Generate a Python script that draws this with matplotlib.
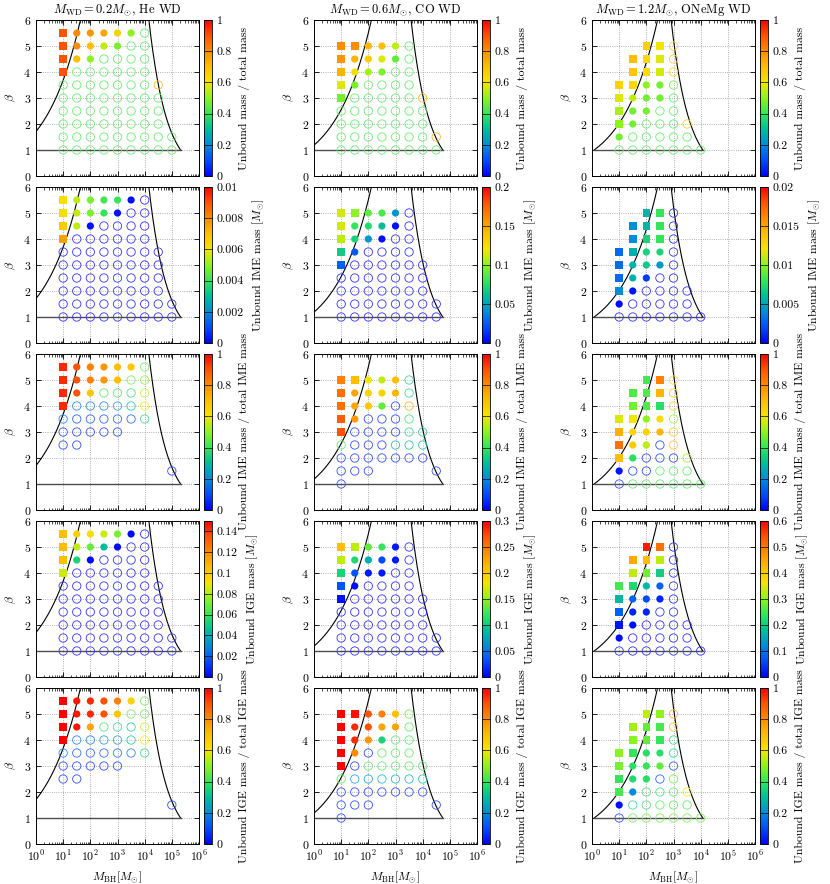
import numpy as np
import matplotlib
matplotlib.use("Agg")
import matplotlib.pyplot as plt
from matplotlib.colors import LinearSegmentedColormap, Normalize
from matplotlib.cm import ScalarMappable
from matplotlib.ticker import LogLocator, NullFormatter, FormatStrFormatter

plt.rcParams['font.family'] = 'serif'
plt.rcParams['font.serif'] = ['cmr10']
plt.rcParams['mathtext.fontset'] = 'cm'
plt.rcParams['axes.formatter.use_mathtext'] = True
plt.rcParams['font.size'] = 8.5

# grid of simulations: log10(M_BH) columns and beta rows (top to bottom)
log_mbh = [1.0, 1.5, 2.0, 2.5, 3.0, 3.5, 4.0, 4.5, 5.0]
betas = [5.5, 5.0, 4.5, 4.0, 3.5, 3.0, 2.5, 2.0, 1.5, 1.0]

# white dwarf models
wd_mass = [0.2, 0.6, 1.2]
wd_titles = [r"$M_{\rm WD}=0.2M_{\odot}$, He WD",
             r"$M_{\rm WD}=0.6M_{\odot}$, CO WD",
             r"$M_{\rm WD}=1.2M_{\odot}$, ONeMg WD"]
# black hole mass where the beta=1 orbit touches the horizon limit
m_end = [2.1e5, 5.5e4, 1.2e4]

cbar_labels = ["Unbound mass / total mass",
               r"Unbound IME mass [$M_{\odot}$]",
               "Unbound IME mass / total IME mass",
               r"Unbound IGE mass [$M_{\odot}$]",
               "Unbound IGE mass / total IGE mass"]
cbar_max = [[1, 1, 1], [0.01, 0.2, 0.02], [1, 1, 1], [0.15, 0.3, 0.6], [1, 1, 1]]
cbar_step = [[0.2, 0.2, 0.2], [0.002, 0.05, 0.005], [0.2, 0.2, 0.2],
             [0.02, 0.05, 0.1], [0.2, 0.2, 0.2]]

# tokens: s = square, c = filled circle, o = open circle, followed by value; '-' = no run
he_frac = ["s.9 c.8 c.78 c.75 c.65 c.5 o.42",
           "s.9 c.8 c.7 c.55 c.48 o.42 o.42",
           "s.9 c.7 c.5 o.42 o.42 o.42 o.42",
           "s.9 o.42 o.42 o.42 o.42 o.42 o.42",
           "o.42 o.42 o.42 o.42 o.42 o.42 o.42 o.75",
           "o.42 o.42 o.42 o.42 o.42 o.42 o.42 o.42",
           "o.42 o.42 o.42 o.42 o.42 o.42 o.42 o.42",
           "o.42 o.42 o.42 o.42 o.42 o.42 o.42 o.42",
           "o.42 o.42 o.42 o.42 o.42 o.42 o.42 o.42 o.42",
           "o.42 o.42 o.42 o.42 o.42 o.42 o.42 o.42 o.42"]
he_ime = ["s.0062 c.0055 c.0048 c.0042 c.004 c.0002 o0",
          "s.0062 c.0055 c.0048 c.004 c.0002 o0 o0",
          "s.0067 c.0055 c.0002 o0 o0 o0 o0",
          "s.0076 o0 o0 o0 o0 o0 o0",
          "o0 o0 o0 o0 o0 o0 o0 o0",
          "o0 o0 o0 o0 o0 o0 o0 o0",
          "o0 o0 o0 o0 o0 o0 o0 o0",
          "o0 o0 o0 o0 o0 o0 o0 o0",
          "o0 o0 o0 o0 o0 o0 o0 o0 o0",
          "o0 o0 o0 o0 o0 o0 o0 o0 o0"]
he_ime_frac = ["s.95 c.9 c.82 c.78 c.7 c.68 o.45",
               "s.95 c.9 c.82 c.78 c.7 o.45 o.48",
               "s.95 c.9 c.68 o.42 o.4 o.38 o.55",
               "s.95 o.15 o.15 o.18 o.22 o.3 o.6",
               "o.15 o.08 o.08 o.08 o.1 o.1 o.35",
               "o.05 o.05 o.05 o.05 o.05",
               "o.05 o.05",
               "",
               "- - - - - - - - o.05",
               ""]
he_ige = ["s.105 c.098 c.093 c.084 c.072 c.002 o0",
          "s.105 c.083 c.068 c.045 c.002 o0 o0",
          "s.105 c.053 c.002 o0 o0 o0 o0",
          "s.084 o0 o0 o0 o0 o0 o0",
          "o0 o0 o0 o0 o0 o0 o0 o0",
          "o0 o0 o0 o0 o0 o0 o0 o0",
          "o0 o0 o0 o0 o0 o0 o0 o0",
          "o0 o0 o0 o0 o0 o0 o0 o0",
          "o0 o0 o0 o0 o0 o0 o0 o0 o0",
          "o0 o0 o0 o0 o0 o0 o0 o0 o0"]
he_ige_frac = ["s1 c.97 c.95 c.9 c.82 c.65 o.45",
               "s1 c.97 c.95 c.9 c.68 o.45 o.45",
               "s1 c.97 c.75 o.4 o.35 o.32 o.55",
               "s1 o.15 o.15 o.2 o.22 o.3 o.6",
               "o.15 o.1 o.1 o.1 o.12 o.15 o.35",
               "o.05 o.05 o.05 o.05 o.05",
               "o.05 o.05",
               "",
               "- - - - - - - - o.05",
               ""]

co_frac = ["",
           "s.8 s.8 c.72 c.7 c.55 o.42",
           "s.78 c.72 c.67 c.58 c.45 o.42",
           "s.72 c.62 c.52 c.48 o.42 o.42",
           "s.58 c.48 o.42 o.42 o.42 o.42",
           "s.47 o.42 o.42 o.42 o.42 o.42 o.75",
           "o.42 o.42 o.42 o.42 o.42 o.42 o.42",
           "o.42 o.42 o.42 o.42 o.42 o.42 o.42",
           "o.42 o.42 o.42 o.42 o.42 o.42 o.42 o.75",
           "o.42 o.42 o.42 o.42 o.42 o.42 o.42 o.42"]
co_ime = ["",
          "s.114 s.1 c.09 c.085 c.044 o0",
          "s.114 c.08 c.074 c.06 c.004 o0",
          "s.11 c.07 c.044 c.004 o0 o0",
          "s.066 c.024 o0 o0 o0 o0",
          "s.026 o0 o0 o0 o0 o0 o0",
          "o0 o0 o0 o0 o0 o0 o0",
          "o0 o0 o0 o0 o0 o0 o0",
          "o0 o0 o0 o0 o0 o0 o0 o0",
          "o0 o0 o0 o0 o0 o0 o0 o0"]
co_ime_frac = ["",
               "s.82 s.7 c.6 c.55 c.7 o.32",
               "s.85 c.75 c.65 c.65 c.72 o.35",
               "s.85 c.75 c.68 c.45 o.05 o.75",
               "s.88 c.78 o.05 o.05 o.05 o.38",
               "s.9 o.05 o.05 o.05 o.05 o.35 o.32",
               "o.42 o.05 o.05 o.05 o.25 o.28 o.3",
               "o.05 o.05 o.05 o.05 o.05 o.05 o.05",
               "o.05 o.05 o.05 - - - - o.05",
               "o.05"]
co_ige = ["",
          "s.21 s.165 c.135 c.12 c.01 o0",
          "s.165 c.11 c.08 c.03 c.01 o0",
          "s.105 c.035 c.01 c.01 o0 o0",
          "s.035 c.006 o0 o0 o0 o0",
          "s.006 o0 o0 o0 o0 o0 o0",
          "o0 o0 o0 o0 o0 o0 o0",
          "o0 o0 o0 o0 o0 o0 o0",
          "o0 o0 o0 o0 o0 o0 o0 o0",
          "o0 o0 o0 o0 o0 o0 o0 o0"]
co_ige_frac = ["",
               "s1 s.98 c.9 c.82 c.7 o.45",
               "s1 c.95 c.9 c.75 c.75 o.42",
               "s1 c.95 c.78 c.35 o.42 o.42",
               "s1 c.8 o.05 o.42 o.42 o.42",
               "s1 o.05 o.42 o.42 o.42 o.42 o.42",
               "o.42 o.2 o.2 o.25 o.25 o.25 o.3",
               "o.05 o.05 o.05 o.05 o.05 o.05 o.05",
               "o.05 o.05 o.05 - - - - o.05",
               "o.05"]

one_frac = ["",
            "- - s.65 s.6 o.68",
            "- s.7 s.63 s.58 o.68",
            "- s.68 s.62 s.57 o.68",
            "s.65 s.63 c.5 c.47 o.45",
            "s.58 c.55 c.47 c.47 o.42",
            "s.53 c.47 c.47 o.42 o.42",
            "s.5 c.47 o.42 o.42 o.42 o.68",
            "c.47 o.42 o.42 o.42 o.42 o.42",
            "o.42 o.42 o.42 o.42 o.42 o.42 o.42"]
one_ime = ["",
           "- - s.0056 s.008 o0",
           "- s.004 s.0056 s.008 o0",
           "- s.004 s.007 s.008 o0",
           "s.003 s.0054 c.007 c.007 o0",
           "s.003 c.0056 c.0066 c.0045 o0",
           "s.003 c.0054 c.0016 o0 o0",
           "s.004 c.0006 o0 o0 o0 o0",
           "c.0002 o0 o0 o0 o0 o0",
           "o0 o0 o0 o0 o0 o0 o0"]
one_ime_frac = ["",
                "- - s.42 s.82 o.62",
                "- s.43 s.43 s.72 o.68",
                "- s.47 s.43 s.38 o.68",
                "s.58 s.6 c.5 c.62 o.5",
                "s.73 c.65 c.65 c.72 o.7",
                "s.85 c.67 c.55 o.05 o.7",
                "s.7 c.38 o.05 o.05 o.05 o.5",
                "c.03 o.05 o.05 o.42 o.42 o.42",
                "o.05 o.42 o.42 o.42 o.42 o.42 o.42"]
one_ige = ["",
           "- - s.58 s.51 o0",
           "- s.44 s.42 s.33 o0",
           "- s.33 s.28 s.2 o0",
           "s.25 s.22 c.17 c.08 o0",
           "s.17 c.08 c.06 c.03 o0",
           "s.08 c.03 c.03 o0 o0",
           "s.015 c.01 o0 o0 o0 o0",
           "c.01 o0 o0 o0 o0 o0",
           "o0 o0 o0 o0 o0 o0 o0"]
one_ige_frac = ["",
                "- - s.55 s.5 o.75",
                "- s.52 s.45 s.42 o.72",
                "- s.5 s.45 s.4 o.35",
                "s.5 s.4 c.38 c.38 o.32",
                "s.48 c.38 c.4 c.45 o.08",
                "s.4 c.37 c.38 o.08 o.45",
                "s.42 c.2 o.38 o.38 o.42 o.6",
                "c.02 o.35 o.38 o.42 o.42 o.42",
                "o.05 o.45 o.45 o.45 o.45 o.45 o.45"]

panels = [[he_frac, co_frac, one_frac],
          [he_ime, co_ime, one_ime],
          [he_ime_frac, co_ime_frac, one_ime_frac],
          [he_ige, co_ige, one_ige],
          [he_ige_frac, co_ige_frac, one_ige_frac]]

cmap = LinearSegmentedColormap.from_list("gp", [
    (0.0, (0.0, 0.0, 1.0)),
    (0.1, (0.0, 0.3, 1.0)),
    (0.2, (0.0, 0.55, 0.85)),
    (0.3, (0.0, 0.75, 0.6)),
    (0.4, (0.2, 0.9, 0.35)),
    (0.5, (0.55, 0.95, 0.12)),
    (0.6, (0.95, 0.9, 0.0)),
    (0.7, (1.0, 0.75, 0.0)),
    (0.8, (1.0, 0.55, 0.0)),
    (0.9, (1.0, 0.33, 0.0)),
    (1.0, (1.0, 0.0, 0.0))])


def parse(rows):
    pts = []
    for beta, row in zip(betas, rows):
        for i, tok in enumerate(row.split()):
            if tok == '-':
                continue
            pts.append((10 ** log_mbh[i], beta, tok[0], float(tok[1:])))
    return pts


W, H = 830, 884
fig = plt.figure(figsize=(W / 100, H / 100), dpi=100)
col_left = [36, 314, 592]
row_top = [20, 187, 354, 521, 688]
ax_w, ax_h = 163, 156

for r in range(5):
    for c in range(3):
        l, t = col_left[c], row_top[r]
        ax = fig.add_axes([l / W, 1 - (t + ax_h) / H, ax_w / W, ax_h / H])
        cax = fig.add_axes([(l + ax_w + 5) / W, 1 - (t + ax_h) / H, 8 / W, ax_h / H])
        norm = Normalize(0, cbar_max[r][c])

        pts = parse(panels[r][c])
        for mk in 'sco':
            sel = [p for p in pts if p[2] == mk]
            if not sel:
                continue
            x = [p[0] for p in sel]
            y = [p[1] for p in sel]
            cols = cmap(norm([p[3] for p in sel]))
            if mk == 's':
                ax.scatter(x, y, marker='s', s=30, c=cols, edgecolors='none', zorder=3)
            elif mk == 'c':
                ax.scatter(x, y, marker='o', s=27, c=cols, edgecolors='none', zorder=3)
            else:
                light = cols.copy()
                light[:, :3] = 0.2 + 0.8 * light[:, :3]
                ax.scatter(x, y, marker='o', s=36, facecolors='none', edgecolors=light,
                           linewidths=0.6, zorder=3)

        # disruption limits
        mwd = wd_mass[c]
        m0 = max(1.0, mwd)
        ml = np.geomspace(m0, 216 * mwd, 200)
        ax.plot(ml, (ml / mwd) ** (1 / 3), color='black', lw=0.8, zorder=2)
        mr = np.geomspace(m_end[c] / 6 ** 1.5, m_end[c], 200)
        ax.plot(mr, (m_end[c] / mr) ** (2 / 3), color='black', lw=0.8, zorder=2)
        ax.plot([m0, m_end[c]], [1, 1], color='0.3', lw=1.0, zorder=2)

        ax.set_xscale('log')
        ax.set_xlim(1, 1e6)
        ax.set_ylim(0, 6)
        ax.xaxis.set_major_locator(LogLocator(base=10, numticks=10))
        ax.xaxis.set_minor_locator(LogLocator(base=10, subs=np.arange(2, 10), numticks=10))
        ax.xaxis.set_minor_formatter(NullFormatter())
        ax.set_yticks(range(7))
        ax.grid(True, which='major', ls=':', color='0.6', lw=0.6)
        ax.tick_params(which='both', direction='in', top=True, right=True)
        ax.tick_params(which='major', length=3.5, width=0.6)
        ax.tick_params(which='minor', length=1.8, width=0.5)
        for sp in ax.spines.values():
            sp.set_linewidth(0.7)
        ax.set_ylabel(r"$\beta$", labelpad=4)
        if r < 4:
            ax.tick_params(labelbottom=False)
        else:
            ax.set_xlabel(r"$M_{\rm BH}[M_{\odot}]$", labelpad=4)
        if r == 0:
            ax.set_title(wd_titles[c], fontsize=9, pad=5)

        sm = ScalarMappable(norm=norm, cmap=cmap)
        cb = fig.colorbar(sm, cax=cax)
        ticks = np.arange(0, cbar_max[r][c] + 1e-9, cbar_step[r][c])
        cb.set_ticks(ticks)
        cb.ax.yaxis.set_major_formatter(FormatStrFormatter('%g'))
        cb.ax.tick_params(direction='in', length=3, width=0.5, left=True, right=True)
        cb.outline.set_linewidth(0.6)
        cb.set_label(cbar_labels[r], labelpad=5)

fig.savefig("out.png", dpi=100)
